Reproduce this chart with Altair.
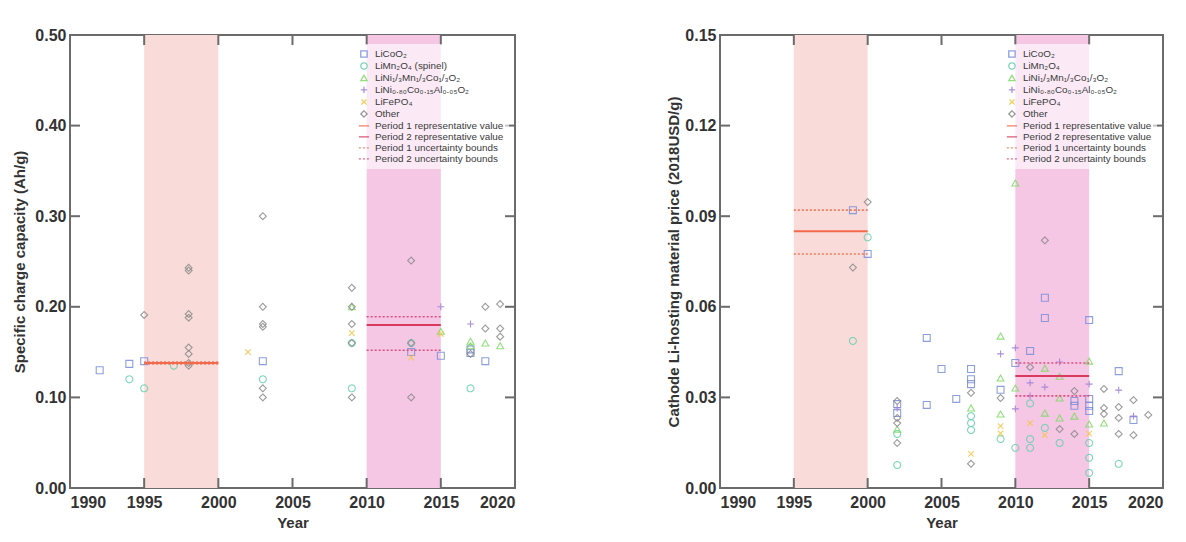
import altair as alt
import pandas as pd

FONT = "Liberation Sans"
AXIS_GREY = "#6b6b6b"

# ---------------- shared axis data ----------------
X_LABELS = [1990, 1995, 2000, 2005, 2010, 2015, 2020]
X_INNER_TICKS = [1995, 2000, 2005, 2010, 2015]
LEFT_Y_LABELS = [0.0, 0.1, 0.2, 0.3, 0.4, 0.5]
LEFT_Y_INNER = [0.1, 0.2, 0.3, 0.4]
RIGHT_Y_LABELS = [0.0, 0.03, 0.06, 0.09, 0.12, 0.15]
RIGHT_Y_INNER = [0.03, 0.06, 0.09, 0.12]

BAND_START = [1995, 2010]
BAND_END = [2000, 2015]
BAND_COLORS = ["#f9dcd9", "#f5c7e5"]

# ---------------- series names / styles ----------------
LEFT_NAMES = ["LiCoO₂", "LiMn₂O₄ (spinel)", "LiNi₁/₃Mn₁/₃Co₁/₃O₂",
              "LiNi₀.₈₀Co₀.₁₅Al₀.₀₅O₂", "LiFePO₄", "Other",
              "Period 1 representative value", "Period 2 representative value",
              "Period 1 uncertainty bounds", "Period 2 uncertainty bounds"]
RIGHT_NAMES = ["LiCoO₂", "LiMn₂O₄", "LiNi₁/₃Mn₁/₃Co₁/₃O₂",
               "LiNi₀.₈₀Co₀.₁₅Al₀.₀₅O₂", "LiFePO₄", "Other",
               "Period 1 representative value", "Period 2 representative value",
               "Period 1 uncertainty bounds", "Period 2 uncertainty bounds"]
SERIES_COLORS = ["#7a8ed8", "#66d0ae", "#80da66", "#9d7ed6", "#f2c744", "#8a8a8a",
                 "#f26a4b", "#d93a5e", "#f07a5a", "#e04d78"]
SERIES_SHAPES = ["square", "circle", "triangle-up", "M-1,0H1M0,-1V1",
                 "M-0.8,-0.8L0.8,0.8M-0.8,0.8L0.8,-0.8", "diamond",
                 "M-1.6,0H1.6", "M-1.6,0H1.6", "M-1.6,0H1.6", "M-1.6,0H1.6"]
SERIES_DASHES = [[1, 0], [1, 0], [1, 0], [1, 0], [1, 0], [1, 0],
                 [1, 0], [1, 0], [2, 2], [2, 2]]

# ---------------- left panel: specific charge capacity (Ah/g) ----------------
L_LICOO2_YEAR = [1992, 1994, 1995, 2003, 2013, 2015, 2017, 2017, 2018]
L_LICOO2_VAL = [0.130, 0.137, 0.140, 0.140, 0.150, 0.146, 0.153, 0.149, 0.140]
L_LIMN_YEAR = [1994, 1995, 1997, 2003, 2009, 2009, 2013, 2017]
L_LIMN_VAL = [0.120, 0.110, 0.135, 0.120, 0.110, 0.160, 0.160, 0.110]
L_NMC_YEAR = [2009, 2015, 2017, 2017, 2018, 2019]
L_NMC_VAL = [0.200, 0.173, 0.162, 0.157, 0.160, 0.157]
L_NCA_YEAR = [2015, 2017]
L_NCA_VAL = [0.200, 0.181]
L_LFP_YEAR = [2002, 2009, 2013, 2015]
L_LFP_VAL = [0.150, 0.171, 0.144, 0.170]
L_OTHER_YEAR = [1995, 1998, 1998, 1998, 1998, 1998, 1998, 1998, 1998,
                2003, 2003, 2003, 2003, 2003, 2003,
                2009, 2009, 2009, 2009, 2009,
                2013, 2013, 2013, 2017, 2018, 2018, 2019, 2019, 2019]
L_OTHER_VAL = [0.191, 0.243, 0.240, 0.192, 0.188, 0.155, 0.148, 0.138, 0.135,
               0.300, 0.200, 0.181, 0.178, 0.110, 0.100,
               0.221, 0.200, 0.181, 0.160, 0.100,
               0.251, 0.160, 0.100, 0.148, 0.200, 0.176, 0.203, 0.176, 0.167]
L_REP_VAL = [0.138, 0.180]
L_LOW_VAL = [0.137, 0.152]
L_HIGH_VAL = [0.139, 0.189]

# ---------------- right panel: material price (2018USD/g) ----------------
R_LICOO2_YEAR = [1999, 2000, 2002, 2002, 2004, 2004, 2005, 2006, 2007, 2007, 2007,
                 2009, 2010, 2011, 2012, 2012, 2014, 2014, 2015, 2015, 2015, 2015,
                 2017, 2018]
R_LICOO2_VAL = [0.092, 0.0775, 0.0278, 0.0248, 0.0497, 0.0275, 0.0394, 0.0295,
                0.0394, 0.0360, 0.0344, 0.0325, 0.0414, 0.0454, 0.0630, 0.0563,
                0.0288, 0.0272, 0.0556, 0.0295, 0.0272, 0.0255, 0.0387, 0.0225]
R_LIMN_YEAR = [1999, 2000, 2002, 2002, 2007, 2007, 2007, 2009, 2010, 2011, 2011,
               2011, 2012, 2013, 2015, 2015, 2015, 2017]
R_LIMN_VAL = [0.0487, 0.083, 0.0179, 0.0076, 0.0238, 0.0215, 0.0192, 0.0162,
              0.0133, 0.0280, 0.0162, 0.0133, 0.0199, 0.0149, 0.0149, 0.0100,
              0.0050, 0.0080]
R_NMC_YEAR = [2002, 2007, 2009, 2009, 2009, 2010, 2010, 2012, 2012, 2013, 2013,
              2013, 2014, 2015, 2015, 2016]
R_NMC_VAL = [0.0195, 0.0265, 0.0503, 0.0364, 0.0245, 0.101, 0.0331, 0.0397,
             0.0248, 0.0370, 0.0298, 0.0232, 0.0238, 0.0420, 0.0212, 0.0215]
R_NCA_YEAR = [2002, 2009, 2010, 2010, 2011, 2011, 2012, 2013, 2015, 2017, 2018]
R_NCA_VAL = [0.0265, 0.0444, 0.0464, 0.0262, 0.0348, 0.0305, 0.0334, 0.0417,
             0.0344, 0.0324, 0.0238]
R_LFP_YEAR = [2007, 2009, 2009, 2011, 2012, 2015]
R_LFP_VAL = [0.0113, 0.0205, 0.0181, 0.0215, 0.0175, 0.0180]
R_OTHER_YEAR = [1999, 2000, 2002, 2002, 2002, 2002, 2007, 2007, 2009, 2011, 2012,
                2013, 2014, 2014, 2016, 2016, 2016, 2017, 2017, 2017, 2018, 2018,
                2019]
R_OTHER_VAL = [0.073, 0.0947, 0.0288, 0.0232, 0.0215, 0.0149, 0.0315, 0.0080,
               0.0298, 0.0400, 0.0820, 0.0195, 0.0321, 0.0179, 0.0328, 0.0265,
               0.0245, 0.0268, 0.0232, 0.0179, 0.0291, 0.0175, 0.0242]
R_REP_VAL = [0.0850, 0.0371]
R_LOW_VAL = [0.0775, 0.0305]
R_HIGH_VAL = [0.0920, 0.0414]


def points_df(names, groups):
    rows = []
    for name, (ys, vs) in zip(names, groups):
        for y, v in zip(ys, vs):
            rows.append({"year": y, "value": v, "series": name})
    return pd.DataFrame(rows)


def lines_df(names, rep, low, high):
    rows = []
    for i in range(2):
        rows.append({"x1": BAND_START[i], "x2": BAND_END[i], "y": rep[i],
                     "series": names[6 + i], "kind": "rep"})
        for b in (low[i], high[i]):
            rows.append({"x1": BAND_START[i], "x2": BAND_END[i], "y": b,
                         "series": names[8 + i], "kind": "bound"})
    return pd.DataFrame(rows)


def panel(names, pts, lines, ydom, ylabels, yinner, ytitle, W, H, tpad, lx):
    xs = alt.Scale(domain=[1990, 2020], nice=False, zero=False)
    ys = alt.Scale(domain=ydom, nice=False, zero=False)
    cs = alt.Scale(domain=names, range=SERIES_COLORS)
    ss = alt.Scale(domain=names, range=SERIES_SHAPES)
    ds = alt.Scale(domain=names, range=SERIES_DASHES)

    def leg():
        return alt.Legend(title=None, orient="none", legendX=lx, legendY=9, padding=5,
                          fillColor="rgba(255,255,255,0.62)", labelFontSize=9.9,
                          labelFont=FONT, labelColor="#3a3a3a", symbolSize=40,
                          symbolStrokeWidth=1.3, rowPadding=0, labelLimit=240,
                          labelOffset=6)

    xaxis = alt.Axis(values=X_LABELS, format="d", title="Year", ticks=False,
                     domain=False, grid=False, labelPadding=6, titlePadding=5)
    yaxis = alt.Axis(values=ylabels, format=".2f", title=ytitle, ticks=False,
                     domain=False, grid=False, labelPadding=4, titlePadding=tpad)

    band_df = pd.DataFrame({"start": BAND_START, "end": BAND_END, "col": BAND_COLORS})
    bands = alt.Chart(band_df).mark_rect().encode(
        x=alt.X("start:Q", scale=xs, axis=xaxis),
        x2="end:Q",
        fill=alt.Fill("col:N", scale=None),
    )

    points = alt.Chart(pts).mark_point(filled=False, size=48, strokeWidth=1.1,
                                       opacity=0.85).encode(
        x=alt.X("year:Q", scale=xs, axis=xaxis),
        y=alt.Y("value:Q", scale=ys, axis=yaxis),
        color=alt.Color("series:N", scale=cs, legend=leg()),
        shape=alt.Shape("series:N", scale=ss, legend=leg()),
        strokeDash=alt.StrokeDash("series:N", scale=ds, legend=leg()),
    )

    reps = alt.Chart(lines).transform_filter(alt.datum.kind == "rep").mark_rule(
        strokeWidth=2).encode(
        x=alt.X("x1:Q", scale=xs, axis=xaxis),
        x2="x2:Q",
        y=alt.Y("y:Q", scale=ys, axis=yaxis),
        color=alt.Color("series:N", scale=cs, legend=leg()),
        strokeDash=alt.StrokeDash("series:N", scale=ds, legend=leg()),
    )
    bounds = alt.Chart(lines).transform_filter(alt.datum.kind == "bound").mark_rule(
        strokeWidth=1.6).encode(
        x=alt.X("x1:Q", scale=xs, axis=xaxis),
        x2="x2:Q",
        y=alt.Y("y:Q", scale=ys, axis=yaxis),
        color=alt.Color("series:N", scale=cs, legend=leg()),
        strokeDash=alt.StrokeDash("series:N", scale=ds, legend=leg()),
    )

    xt = pd.DataFrame({"t": X_INNER_TICKS})
    yt = pd.DataFrame({"t": yinner})
    tick_bottom = alt.Chart(xt).mark_rule(color=AXIS_GREY, strokeWidth=2).encode(
        x=alt.X("t:Q", scale=xs, axis=xaxis), y=alt.value(H), y2=alt.value(H - 10))
    tick_top = alt.Chart(xt).mark_rule(color=AXIS_GREY, strokeWidth=2).encode(
        x=alt.X("t:Q", scale=xs, axis=xaxis), y=alt.value(0), y2=alt.value(10))
    tick_left = alt.Chart(yt).mark_rule(color=AXIS_GREY, strokeWidth=2).encode(
        y=alt.Y("t:Q", scale=ys, axis=yaxis), x=alt.value(0), x2=alt.value(10))
    tick_right = alt.Chart(yt).mark_rule(color=AXIS_GREY, strokeWidth=2).encode(
        y=alt.Y("t:Q", scale=ys, axis=yaxis), x=alt.value(W), x2=alt.value(W - 10))

    return alt.layer(bands, points, bounds, reps, tick_bottom, tick_top,
                     tick_left, tick_right).properties(width=W, height=H)


left_pts = points_df(LEFT_NAMES[:6], [
    (L_LICOO2_YEAR, L_LICOO2_VAL), (L_LIMN_YEAR, L_LIMN_VAL),
    (L_NMC_YEAR, L_NMC_VAL), (L_NCA_YEAR, L_NCA_VAL),
    (L_LFP_YEAR, L_LFP_VAL), (L_OTHER_YEAR, L_OTHER_VAL)])
right_pts = points_df(RIGHT_NAMES[:6], [
    (R_LICOO2_YEAR, R_LICOO2_VAL), (R_LIMN_YEAR, R_LIMN_VAL),
    (R_NMC_YEAR, R_NMC_VAL), (R_NCA_YEAR, R_NCA_VAL),
    (R_LFP_YEAR, R_LFP_VAL), (R_OTHER_YEAR, R_OTHER_VAL)])

left = panel(LEFT_NAMES, left_pts, lines_df(LEFT_NAMES, L_REP_VAL, L_LOW_VAL, L_HIGH_VAL),
             [0, 0.5], LEFT_Y_LABELS, LEFT_Y_INNER,
             "Specific charge capacity (Ah/g)", 445, 453, 7, 284)
right = panel(RIGHT_NAMES, right_pts, lines_df(RIGHT_NAMES, R_REP_VAL, R_LOW_VAL, R_HIGH_VAL),
              [0, 0.15], RIGHT_Y_LABELS, RIGHT_Y_INNER,
              "Cathode Li-hosting material price (2018USD/g)", 443, 453, 3, 282)

chart = alt.hconcat(left, right, spacing=148).resolve_scale(
    color="independent", shape="independent", strokeDash="independent",
    x="independent", y="independent", fill="independent"
).resolve_legend(
    color="independent", shape="independent", strokeDash="independent"
).properties(
    padding={"left": 3, "top": 18, "right": 0, "bottom": 0}
).configure_view(
    stroke=AXIS_GREY, strokeWidth=2
).configure_axis(
    labelFont=FONT, labelFontSize=16, labelFontWeight="bold", labelColor="#333333",
    titleFont=FONT, titleFontSize=15, titleFontWeight="bold", titleColor="#333333"
)

chart.save("out.html", embed_options={"renderer": "svg", "actions": False})
